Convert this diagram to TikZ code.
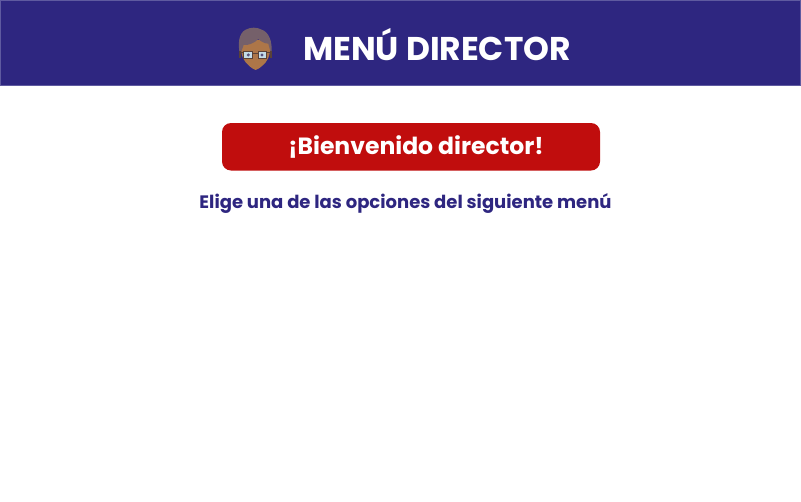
\documentclass[tikz,border=0pt]{standalone}
\usepackage{fontspec}
\setmainfont{Poppins}
\definecolor{navy}{HTML}{2E2680}
\definecolor{navyedge}{HTML}{5F5AA0}
\definecolor{redbox}{HTML}{C00D0D}
\definecolor{hair}{HTML}{75606A}
\definecolor{skin}{HTML}{AD7648}
\definecolor{lens}{HTML}{C4DCE8}
\definecolor{frame}{HTML}{5A4238}
\tikzset{
  banner/.style={fill=navy,draw=navyedge,line width=0.7pt},
  welcome/.style={fill=redbox,rounded corners=9pt},
  title/.style={text=white,font=\bfseries\fontsize{32.9}{36}\selectfont,inner sep=0pt,anchor=base},
  greet/.style={text=white,font=\bfseries\fontsize{23.5}{28}\selectfont,inner sep=0pt,anchor=base},
  sub/.style={text=navy,font=\bfseries\fontsize{18}{22}\selectfont,inner sep=0pt,anchor=base}
}
\begin{document}
\begin{tikzpicture}[x=1pt,y=-1pt]
\useasboundingbox (0,0) rectangle (801,501);
\fill[white] (0,0) rectangle (801,501);
\draw[banner] (0.4,0.4) rectangle (800.6,85.6);
\fill[welcome] (222,123) rectangle (600,170.5);
% face
\begin{scope}[shift={(225,15)},x=0.3333pt,y=-0.3333pt]
  \fill[skin] (48,75) .. controls (46,105) and (50,128) .. (62,142) .. controls (70,150) and (78,160) .. (92,165) .. controls (106,160) and (114,150) .. (122,142) .. controls (134,128) and (138,105) .. (135,75) -- cycle;
  \fill[hair] (45,118) .. controls (38,90) and (40,55) .. (62,44) .. controls (78,36) and (95,36) .. (110,44) .. controls (130,50) and (144,78) .. (139,118) .. controls (136,108) and (133,98) .. (130,86) .. controls (120,86) and (108,80) .. (100,72) .. controls (88,85) and (68,92) .. (56,90) .. controls (53,100) and (49,108) .. (45,118) -- cycle;
  \fill[frame] (42,108) rectangle (48,128);
  \fill[frame] (135,108) rectangle (141,128);
  \draw[frame,line width=0.8pt,fill=lens] (56,110) rectangle (82,131);
  \draw[frame,line width=0.8pt,fill=lens] (99,110) rectangle (125,131);
  \draw[frame,line width=0.8pt] (82,114) -- (99,114) (46,112) -- (56,112) (125,112) -- (137,112);
  \fill[navy!50!gray] (70,120) circle (5);
  \fill[navy!50!gray] (111,120) circle (5);
\end{scope}
\node[title] (menu) at (437,60) {MENÚ DIRECTOR};
\node[greet] (hello) at (416,154) {¡Bienvenido director!};
\node[sub] (choose) at (405.5,208) {Elige una de las opciones del siguiente menú};
\end{tikzpicture}
\end{document}
